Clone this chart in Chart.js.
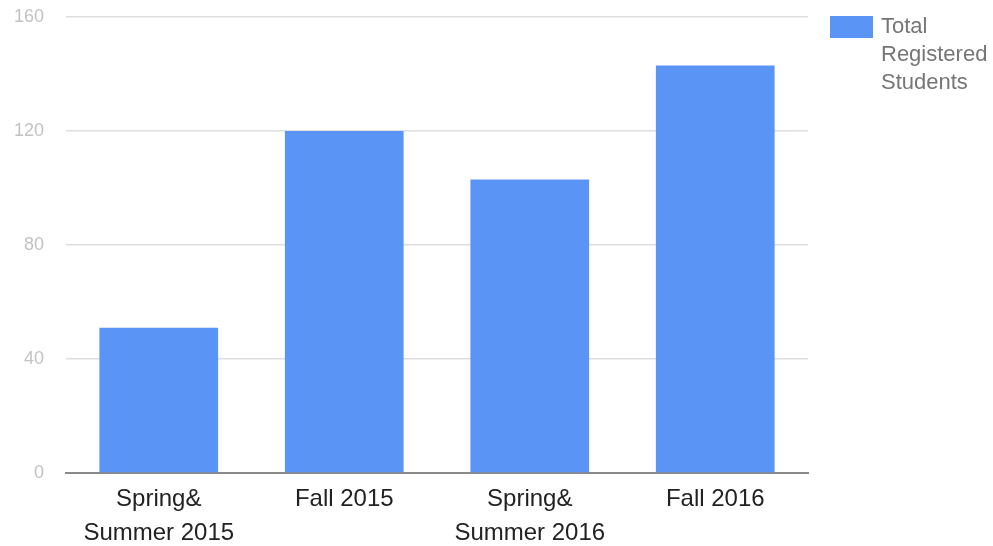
<!DOCTYPE html>
<html>
<head>
<meta charset="utf-8">
<script src="https://cdn.jsdelivr.net/npm/chart.js@4/dist/chart.umd.min.js"></script>
<style>
    html, body { margin: 0; padding: 0; background: #fff; }
    #wrap { width: 993px; height: 546px; }
</style>
</head>
<body>
<div id="wrap"><canvas id="myChart" width="993" height="546"></canvas></div>
<script>
    'use strict';
    // data
    const categories = [
        ['Spring&', 'Summer 2015'],
        'Fall 2015',
        ['Spring&', 'Summer 2016'],
        'Fall 2016',
    ];
    const students = [51, 120, 103, 143];
    const yTicks = [0, 40, 80, 120, 160];
    const seriesName = 'Total Registered Students';

    const barColor = '#5a95f6';

    // legend on the right, label wrapped one word per line
    const sideLegend = {
        id: 'sideLegend',
        afterDraw(chart) {
            const ctx = chart.ctx;
            const area = chart.chartArea;
            const x = area.right + 22;
            ctx.save();
            ctx.fillStyle = barColor;
            ctx.fillRect(x, area.top - 1, 43, 22);
            ctx.fillStyle = '#767676';
            ctx.font = '22px "Liberation Sans", Arial, sans-serif';
            ctx.textBaseline = 'middle';
            seriesName.split(' ').forEach((word, i) => {
                ctx.fillText(word, x + 51, area.top + 10 + i * 28);
            });
            ctx.restore();
        },
    };

    const data = {
        labels: categories,
        datasets: [
            {
                label: seriesName,
                data: students,
                backgroundColor: barColor,
                barPercentage: 0.64,
                categoryPercentage: 1,
            },
        ],
    };

    const config = {
        type: 'bar',
        data: data,
        options: {
            responsive: false,
            animation: false,
            layout: {
                padding: { top: 17, right: 185, left: 0, bottom: 0 },
            },
            scales: {
                x: {
                    grid: { display: false },
                    border: { color: '#8a8a8a', width: 2 },
                    ticks: {
                        color: '#222',
                        padding: 2,
                        maxRotation: 0,
                        font: { family: '"Liberation Sans", Arial, sans-serif', size: 24, lineHeight: 1.4 },
                    },
                    afterFit(scale) {
                        scale.height = 546 - 473;
                        scale.paddingLeft = 0;
                        scale.paddingRight = 0;
                    },
                },
                y: {
                    min: 0,
                    max: 160,
                    afterBuildTicks(scale) {
                        scale.ticks = yTicks.map((v) => ({ value: v }));
                    },
                    grid: {
                        color: '#dedede',
                        lineWidth: 1.5,
                        drawTicks: false,
                    },
                    border: { display: false },
                    ticks: {
                        color: '#c2c2c2',
                        padding: 22,
                        font: { family: '"Liberation Sans", Arial, sans-serif', size: 18 },
                    },
                    afterFit(scale) {
                        scale.width = 66;
                        scale.paddingTop = 0;
                        scale.paddingBottom = 0;
                    },
                },
            },
            plugins: {
                legend: { display: false },
                tooltip: { enabled: false },
            },
        },
        plugins: [sideLegend],
    };
    const myChart = new Chart(document.getElementById('myChart'), config);
</script>
</body>
</html>
